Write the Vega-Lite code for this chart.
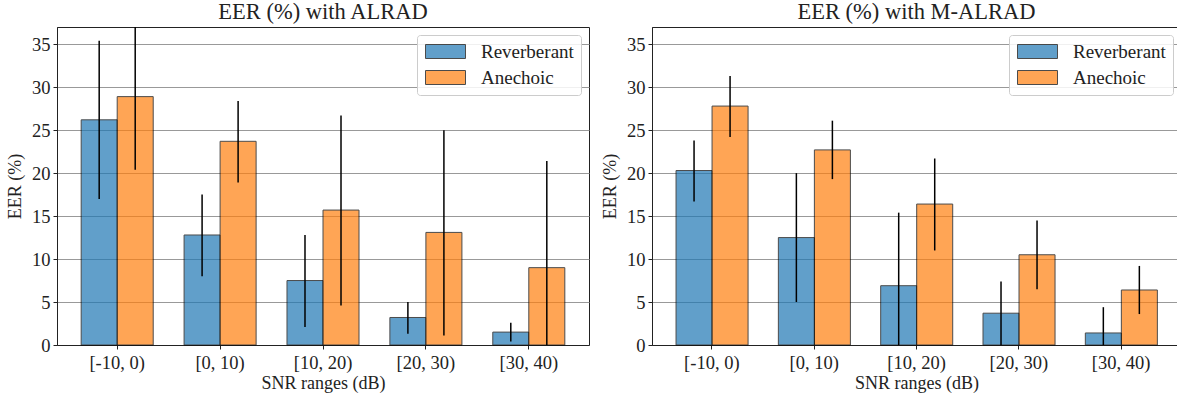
{
  "$schema": "https://vega.github.io/schema/vega-lite/v6.json",
  "background": "white",
  "padding": {"left": 5, "top": 0, "right": 0, "bottom": 0},
  "spacing": 10,
  "datasets": {
    "alrad": [
      {"range": "[-10, 0)", "cond": "Reverberant", "eer": 26.2, "lo": 17.0, "hi": 35.4},
      {"range": "[-10, 0)", "cond": "Anechoic", "eer": 28.9, "lo": 20.4, "hi": 37.4},
      {"range": "[0, 10)", "cond": "Reverberant", "eer": 12.8, "lo": 8.0, "hi": 17.5},
      {"range": "[0, 10)", "cond": "Anechoic", "eer": 23.7, "lo": 18.9, "hi": 28.4},
      {"range": "[10, 20)", "cond": "Reverberant", "eer": 7.5, "lo": 2.1, "hi": 12.8},
      {"range": "[10, 20)", "cond": "Anechoic", "eer": 15.7, "lo": 4.6, "hi": 26.7},
      {"range": "[20, 30)", "cond": "Reverberant", "eer": 3.2, "lo": 1.3, "hi": 5.0},
      {"range": "[20, 30)", "cond": "Anechoic", "eer": 13.1, "lo": 1.1, "hi": 25.0},
      {"range": "[30, 40)", "cond": "Reverberant", "eer": 1.5, "lo": 0.4, "hi": 2.6},
      {"range": "[30, 40)", "cond": "Anechoic", "eer": 9.0, "lo": -3.4, "hi": 21.4}
    ],
    "malrad": [
      {"range": "[-10, 0)", "cond": "Reverberant", "eer": 20.3, "lo": 16.7, "hi": 23.8},
      {"range": "[-10, 0)", "cond": "Anechoic", "eer": 27.8, "lo": 24.2, "hi": 31.3},
      {"range": "[0, 10)", "cond": "Reverberant", "eer": 12.5, "lo": 5.0, "hi": 20.0},
      {"range": "[0, 10)", "cond": "Anechoic", "eer": 22.7, "lo": 19.3, "hi": 26.1},
      {"range": "[10, 20)", "cond": "Reverberant", "eer": 6.9, "lo": -1.6, "hi": 15.4},
      {"range": "[10, 20)", "cond": "Anechoic", "eer": 16.4, "lo": 11.0, "hi": 21.7},
      {"range": "[20, 30)", "cond": "Reverberant", "eer": 3.7, "lo": 0.0, "hi": 7.4},
      {"range": "[20, 30)", "cond": "Anechoic", "eer": 10.5, "lo": 6.5, "hi": 14.5},
      {"range": "[30, 40)", "cond": "Reverberant", "eer": 1.4, "lo": -1.6, "hi": 4.4},
      {"range": "[30, 40)", "cond": "Anechoic", "eer": 6.4, "lo": 3.6, "hi": 9.2}
    ]
  },
  "config": {
    "font": "Liberation Serif",
    "view": {"stroke": "#222", "strokeWidth": 1},
    "axis": {
      "labelFont": "Liberation Serif", "titleFont": "Liberation Serif",
      "labelFontSize": 18.5, "titleFontSize": 18, "titleFontWeight": "normal",
      "labelColor": "#222", "titleColor": "#222",
      "domainColor": "#222", "tickColor": "#222", "tickSize": 4,
      "gridColor": "#999", "gridWidth": 1
    },
    "axisY": {"minExtent": 25, "maxExtent": 25, "labelPadding": 3, "titlePadding": 8},
    "axisX": {"labelPadding": 4, "titlePadding": 3},
    "title": {"font": "Liberation Serif", "fontSize": 22.5, "fontWeight": "normal", "color": "#222", "offset": 4},
    "legend": {
      "labelFont": "Liberation Serif", "labelFontSize": 19, "labelColor": "#222",
      "fillColor": "rgba(255,255,255,0.85)", "strokeColor": "#ccc", "cornerRadius": 3,
      "padding": 7, "rowPadding": 6, "labelOffset": 38,
      "symbolType": "M-1,-0.875H4V0.875H-1Z", "symbolSize": 256,
      "symbolStrokeColor": "#000", "symbolStrokeWidth": 1, "symbolOpacity": 0.7,
      "offset": 8
    }
  },
  "hconcat": [
    {
      "width": 532, "height": 318,
      "title": "EER (%) with ALRAD",
      "data": {"name": "alrad"},
      "layer": [
        {
          "mark": {"type": "bar", "opacity": 0.7, "stroke": "#000", "strokeWidth": 1},
          "encoding": {
            "x": {"field": "range", "type": "nominal", "sort": null,
                  "scale": {"paddingInner": 0.3, "paddingOuter": 0.235},
                  "axis": {"labelAngle": 0, "title": "SNR ranges (dB)"}},
            "xOffset": {"field": "cond", "type": "nominal", "sort": ["Reverberant", "Anechoic"]},
            "y": {"field": "eer", "type": "quantitative",
                  "scale": {"domain": [0, 37], "nice": false},
                  "axis": {"values": [0, 5, 10, 15, 20, 25, 30, 35], "title": "EER (%)", "grid": true}},
            "color": {"field": "cond", "type": "nominal", "sort": ["Reverberant", "Anechoic"],
                      "scale": {"domain": ["Reverberant", "Anechoic"], "range": ["#1f77b4", "#ff7f0e"]},
                      "legend": {"title": null, "orient": "top-right"}}
          }
        },
        {
          "mark": {"type": "rule", "color": "#000", "strokeWidth": 1.5, "clip": true},
          "encoding": {
            "x": {"field": "range", "type": "nominal", "sort": null},
            "xOffset": {"field": "cond", "type": "nominal", "sort": ["Reverberant", "Anechoic"]},
            "y": {"field": "lo", "type": "quantitative"},
            "y2": {"field": "hi"}
          }
        }
      ]
    },
    {
      "width": 529, "height": 318,
      "title": "EER (%) with M-ALRAD",
      "data": {"name": "malrad"},
      "layer": [
        {
          "mark": {"type": "bar", "opacity": 0.7, "stroke": "#000", "strokeWidth": 1},
          "encoding": {
            "x": {"field": "range", "type": "nominal", "sort": null,
                  "scale": {"paddingInner": 0.3, "paddingOuter": 0.235},
                  "axis": {"labelAngle": 0, "title": "SNR ranges (dB)"}},
            "xOffset": {"field": "cond", "type": "nominal", "sort": ["Reverberant", "Anechoic"]},
            "y": {"field": "eer", "type": "quantitative",
                  "scale": {"domain": [0, 37], "nice": false},
                  "axis": {"values": [0, 5, 10, 15, 20, 25, 30, 35], "title": "EER (%)", "grid": true}},
            "color": {"field": "cond", "type": "nominal", "sort": ["Reverberant", "Anechoic"],
                      "scale": {"domain": ["Reverberant", "Anechoic"], "range": ["#1f77b4", "#ff7f0e"]},
                      "legend": {"title": null, "orient": "top-right"}}
          }
        },
        {
          "mark": {"type": "rule", "color": "#000", "strokeWidth": 1.5, "clip": true},
          "encoding": {
            "x": {"field": "range", "type": "nominal", "sort": null},
            "xOffset": {"field": "cond", "type": "nominal", "sort": ["Reverberant", "Anechoic"]},
            "y": {"field": "lo", "type": "quantitative"},
            "y2": {"field": "hi"}
          }
        }
      ]
    }
  ],
  "resolve": {"legend": {"color": "independent"}, "scale": {"color": "independent"}}
}
